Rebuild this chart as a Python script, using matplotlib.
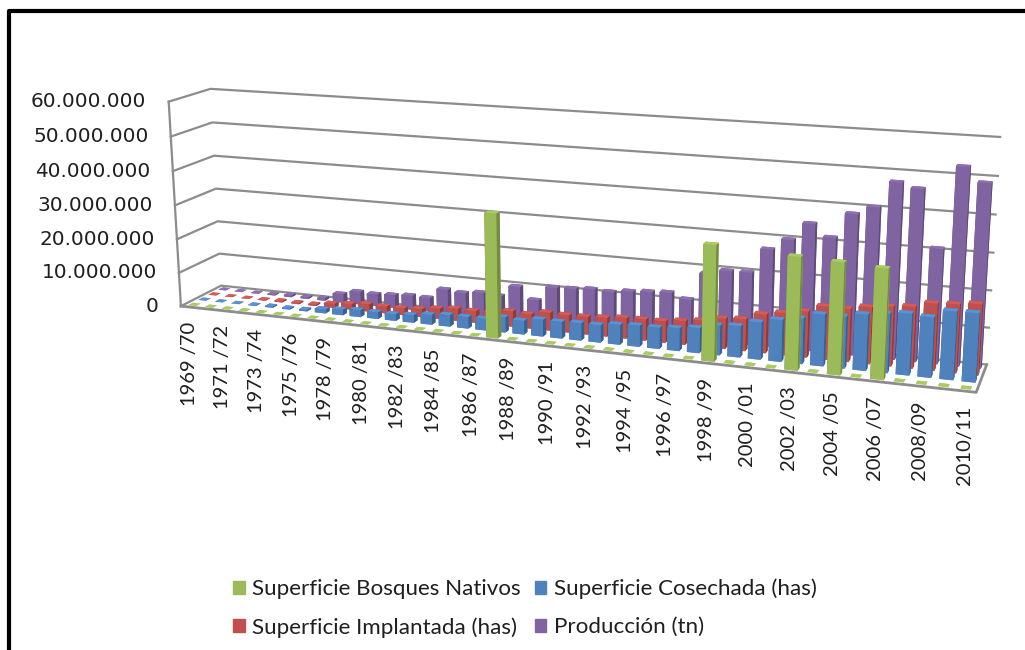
import numpy as np
import matplotlib
matplotlib.use('Agg')
import matplotlib.pyplot as plt
from matplotlib.lines import Line2D
from matplotlib.patches import Patch
from mpl_toolkits.mplot3d import proj3d

plt.rcParams['font.family'] = ['Lato', 'DejaVu Sans']

tick_labels = ['1969 /70', '1971 /72', '1973 /74', '1975 /76', '1978 /79', '1980 /81', '1982 /83',
               '1984 /85', '1986 /87', '1988 /89', '1990 /91', '1992 /93', '1994 /95', '1996 /97',
               '1998 /99', '2000 /01', '2002 /03', '2004 /05', '2006 /07', '2008/09', '2010/11']
value_labels = ['0', '10.000.000', '20.000.000', '30.000.000', '40.000.000', '50.000.000', '60.000.000']
value_ticks = [0, 10e6, 20e6, 30e6, 40e6, 50e6, 60e6]

# millions, one value per campaign (41 of them)
bosques = [0] * 17 + [35.0] + [0] * 10 + [31.5] + [0] * 3 + [30.3, 0, 29.8, 0, 29.2, 0, 0, 0, 0]
cosechada = [.025, .037, .068, .158, .345, .345, .433, 1.15, 1.6, 2.0, 1.9, 1.9, 2.2, 2.8,
             3.3, 3.3, 3.3, 4.3, 3.9, 4.8, 4.7, 4.9, 4.9, 5.6, 5.9, 5.9, 6.3, 6.9, 8.2, 8.6,
             10.2, 11.4, 12.4, 14.0, 14.0, 15.1, 15.9, 16.4, 16.0, 18.1, 18.2]
implantada = [.03, .038, .08, .17, .38, .37, .44, 1.2, 1.64, 2.1, 2.0, 2.0, 2.3, 3.0,
              3.5, 3.4, 3.5, 4.4, 4.1, 5.1, 4.95, 5.0, 5.3, 5.8, 6.0, 6.0, 6.6, 7.2, 8.4, 8.8,
              10.7, 11.6, 12.6, 14.5, 14.4, 15.4, 16.1, 16.6, 18.0, 18.3, 18.9]
produccion = [.027, .059, .078, .27, .5, .49, .7, 2.5, 3.7, 3.5, 3.77, 4.15, 4.0, 7.0,
              6.5, 7.1, 6.7, 9.9, 6.5, 10.7, 10.9, 11.3, 11.0, 11.7, 12.1, 12.4, 11.0, 18.7, 20.0, 20.1,
              26.9, 30.0, 34.8, 31.5, 38.3, 40.5, 47.5, 46.2, 30.9, 52.7, 48.9]

series = ['Superficie Bosques Nativos', 'Superficie Cosechada (has)', 'Superficie Implantada (has)', 'Producción (tn)']
values = [bosques, cosechada, implantada, produccion]
# front, top, side
colors = [('#9BBB59', '#A9CC62', '#748C42'),
          ('#4F81BD', '#5A92D4', '#3A608E'),
          ('#C0504D', '#D25C58', '#8F3B39'),
          ('#8064A2', '#8D6FB3', '#5F4A79')]
grid = '#8C8C8C'

n = len(cosechada)
fig = plt.figure(figsize=(10.25, 6.5), dpi=100)
ax = fig.add_axes([0.0336, -0.1616, 1, 1.58], projection='3d', computed_zorder=False)
ax.set_xlim(0, n, view_margin=0)
ax.set_ylim(0, 4, view_margin=0)
ax.set_zlim(0, 60e6, view_margin=0)
ax.view_init(elev=14.2189, azim=-70.186, roll=0.2294)
ax.set_proj_type('persp', focal_length=0.3148)
ax.set_box_aspect((1, 0.0998, 0.2655), zoom=0.8238)
ax.set_axis_off()

# walls and floor
for z in value_ticks:
    ax.plot([0, 0, n], [0, 4, 4], [z, z, z], color=grid, lw=1.6, zorder=1)
ax.plot([0, 0], [0, 0], [0, 60e6], color=grid, lw=1.6, zorder=1)
ax.plot([0, n, n], [0, 0, 4], [0, 0, 0], color=grid, lw=2, zorder=1)

# back row first, so the nearer ones paint over
for row in range(3, -1, -1):
    front, top, side = colors[row]
    for i, v in enumerate(values[row]):
        # the near zero bars only show up as a small dash in the original
        w, d = (0.46, 0.45) if v < 1 else (0.62, 0.45)
        ax.bar3d(i + 0.5 - w / 2, row + 0.5 - d / 2, 0, w, d, v * 1e6,
                 color=[top, top, front, front, side, side], shade=False,
                 zorder=10 + (3 - row) * 100 + i)

M = ax.get_proj()
for i, lab in enumerate(tick_labels):
    px, py, _ = proj3d.proj_transform(2 * i + 0.5, 0, 0, M)
    ax.annotate(lab, (px, py), xytext=(0, -10.5), textcoords='offset points',
                rotation=90, ha='center', va='top', fontsize=14.5, color='#1F1F1F')
for z, lab in zip(value_ticks, value_labels):
    px, py, _ = proj3d.proj_transform(0, 0, z, M)
    ax.annotate(lab, (px, py), xytext=(-16, 0), textcoords='offset points',
                ha='right', va='center', fontsize=14.4, color='#1F1F1F', family='DejaVu Sans')

handles = [Patch(color=c[0]) for c in colors]
fig.legend([handles[0], handles[2], handles[1], handles[3]],
           [series[0], series[2], series[1], series[3]],
           ncol=2, frameon=False, fontsize=16.1, handlelength=0.53, handleheight=0.53,
           handletextpad=0.35, columnspacing=0.6, labelspacing=0.8,
           loc='lower left', bbox_to_anchor=(0.2075, -0.012), labelcolor='#1F1F1F')

# picture frame, cut off at the right and at the bottom
fig.add_artist(Line2D([9 / 1025, 9 / 1025, 1], [0, 1 - 11 / 650, 1 - 11 / 650], color='black', lw=3))
fig.savefig('out.png', dpi=100)
